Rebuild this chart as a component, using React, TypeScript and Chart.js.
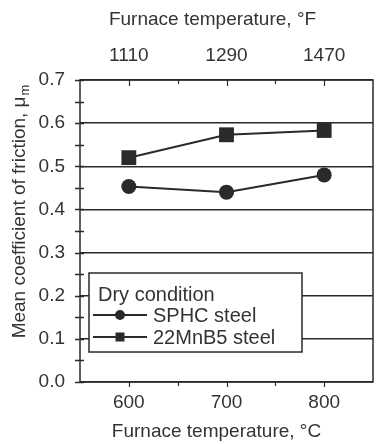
import React, { useEffect, useRef } from 'react';
import { Chart, registerables } from 'chart.js';

Chart.register(...registerables);

// ---- data ----
const tempC = [600, 700, 800];
const tempF = ['1110', '1290', '1470'];
const sphcSteel = [0.453, 0.44, 0.48];
const mnb5Steel = [0.52, 0.573, 0.583];
const seriesNames = ['SPHC steel', '22MnB5 steel'];
const legendTitle = 'Dry condition';
const xTitleBottom = 'Furnace temperature, °C';
const xTitleTop = 'Furnace temperature, °F';
const yTitleMain = 'Mean coefficient of friction, μ';
const yTitleSub = 'm';
const yMin = 0;
const yMax = 0.7;
const yStep = 0.1;
const xMin = 550;
const xMax = 850;
const xMinorStep = 50;

const FONT = "'Liberation Sans', Arial, sans-serif";
const INK = '#2a2a2a';
const TEXT = '#333333';

const decorPlugin = {
  id: 'decor',
  afterDraw(chart: any) {
    const { ctx, chartArea: a, scales } = chart;
    const x = scales.x;
    const y = scales.y;
    ctx.save();
    ctx.strokeStyle = INK;
    ctx.lineWidth = 1.5;
    // frame
    ctx.strokeRect(a.left, a.top, a.right - a.left, a.bottom - a.top);
    // y ticks (major + minor)
    for (let i = 0; i <= Math.round((yMax - yMin) / (yStep / 2)); i++) {
      const v = yMin + i * (yStep / 2);
      const py = Math.round(y.getPixelForValue(v)) + 0.5;
      ctx.beginPath();
      ctx.moveTo(a.left - 5, py);
      ctx.lineTo(a.left + 4, py);
      ctx.stroke();
    }
    // x ticks top (inward) and bottom (outward)
    ctx.lineWidth = 1.2;
    for (let v = tempC[0]; v <= tempC[tempC.length - 1]; v += xMinorStep) {
      const px = Math.round(x.getPixelForValue(v)) + 0.5;
      const major = tempC.includes(v);
      ctx.beginPath();
      ctx.moveTo(px, a.top);
      ctx.lineTo(px, a.top + (major ? 6 : 4));
      ctx.moveTo(px, a.bottom);
      ctx.lineTo(px, a.bottom + (major ? 5 : 4));
      ctx.stroke();
    }

    // x axis titles
    ctx.fillStyle = TEXT;
    ctx.font = `19px ${FONT}`;
    ctx.textAlign = 'center';
    ctx.textBaseline = 'middle';
    const titleCx = (a.left + a.right) / 2 - 11;
    ctx.fillText(xTitleTop, titleCx - 3, 20);
    ctx.fillText(xTitleBottom, titleCx + 1, a.bottom + 50);

    // y title with subscript
    ctx.save();
    const mainFont = `19px ${FONT}`;
    const subFont = `13px ${FONT}`;
    ctx.font = mainFont;
    const wMain = ctx.measureText(yTitleMain).width;
    ctx.font = subFont;
    const wSub = ctx.measureText(yTitleSub).width;
    const cy = (a.top + a.bottom) / 2 - 19;
    ctx.translate(25, cy);
    ctx.rotate(-Math.PI / 2);
    ctx.textBaseline = 'alphabetic';
    ctx.textAlign = 'left';
    const start = -(wMain + wSub) / 2;
    ctx.font = mainFont;
    ctx.fillText(yTitleMain, start, 0);
    ctx.font = subFont;
    ctx.fillText(yTitleSub, start + wMain + 1, 4);
    ctx.restore();

    // legend box
    const lx = a.left + 9;
    const ly = a.top + 193;
    const lw = 213;
    const lh = 79;
    ctx.fillStyle = '#ffffff';
    ctx.fillRect(lx, ly, lw, lh);
    ctx.lineWidth = 1.5;
    ctx.strokeStyle = INK;
    ctx.strokeRect(lx, ly, lw, lh);
    ctx.fillStyle = TEXT;
    ctx.font = `20px ${FONT}`;
    ctx.textBaseline = 'middle';
    ctx.textAlign = 'left';
    ctx.fillText(legendTitle, lx + 9, ly + 22);
    const rows = [ly + 42, ly + 64];
    const styles = ['circle', 'rect'];
    rows.forEach((ry, i) => {
      ctx.strokeStyle = INK;
      ctx.fillStyle = INK;
      ctx.lineWidth = 2;
      ctx.beginPath();
      ctx.moveTo(lx + 4, ry);
      ctx.lineTo(lx + 58, ry);
      ctx.stroke();
      const mx = lx + 31;
      if (styles[i] === 'circle') {
        ctx.beginPath();
        ctx.arc(mx, ry, 5, 0, Math.PI * 2);
        ctx.fill();
      } else {
        ctx.fillRect(mx - 4.5, ry - 4.5, 9, 9);
      }
      ctx.fillStyle = TEXT;
      ctx.fillText(seriesNames[i], lx + 64, ry + 1);
    });
    ctx.restore();
  },
};

export default function App() {
  const ref = useRef<HTMLCanvasElement | null>(null);
  useEffect(() => {
    if (!ref.current) return;
    const font = { family: FONT, size: 19 };
    const fixTicks = (s: any) => {
      s.ticks = tempC.map((v) => ({ value: v }));
    };
    const chart = new Chart(ref.current, {
      type: 'line',
      data: {
        datasets: [
          {
            label: seriesNames[0],
            data: tempC.map((t, i) => ({ x: t, y: sphcSteel[i] })),
            borderColor: INK,
            backgroundColor: INK,
            borderWidth: 2,
            pointStyle: 'circle',
            pointRadius: 7.5,
            pointBorderWidth: 0,
            xAxisID: 'x',
            yAxisID: 'y',
          },
          {
            label: seriesNames[1],
            data: tempC.map((t, i) => ({ x: t, y: mnb5Steel[i] })),
            borderColor: INK,
            backgroundColor: INK,
            borderWidth: 2,
            pointStyle: 'rect',
            pointRadius: 10.5,
            pointBorderWidth: 0,
            xAxisID: 'x',
            yAxisID: 'y',
          },
        ],
      },
      options: {
        animation: false,
        responsive: true,
        maintainAspectRatio: false,
        layout: { autoPadding: false, padding: { left: 0, right: 4, top: 0, bottom: 0 } },
        plugins: { legend: { display: false }, tooltip: { enabled: false } },
        scales: {
          x: {
            type: 'linear',
            position: 'bottom',
            min: xMin,
            max: xMax,
            afterBuildTicks: fixTicks,
            afterFit: (s: any) => {
              s.height = 62;
              s.paddingLeft = 0;
              s.paddingRight = 0;
            },
            grid: { display: false, drawTicks: false },
            border: { display: false },
            ticks: {
              font,
              color: TEXT,
              padding: 9,
              maxRotation: 0,
              callback: (v: any) => String(v),
            },
            title: { display: false },
          },
          x2: {
            type: 'linear',
            position: 'top',
            min: xMin,
            max: xMax,
            afterBuildTicks: fixTicks,
            afterFit: (s: any) => {
              s.height = 80;
              s.paddingLeft = 0;
              s.paddingRight = 0;
            },
            grid: { display: false, drawTicks: false },
            border: { display: false },
            ticks: {
              font,
              color: TEXT,
              padding: 13,
              maxRotation: 0,
              callback: (v: any) => tempF[tempC.indexOf(v)] ?? '',
            },
            title: { display: false },
          },
          y: {
            min: yMin,
            max: yMax,
            afterFit: (s: any) => {
              s.width = 80;
              s.paddingTop = 0;
              s.paddingBottom = 0;
            },
            grid: { color: INK, lineWidth: 1.5, drawTicks: false },
            border: { display: false },
            ticks: {
              stepSize: yStep,
              font,
              color: TEXT,
              padding: 15,
              callback: (v: any) => Number(v).toFixed(1),
            },
          },
        },
      },
      plugins: [decorPlugin],
    });
    return () => chart.destroy();
  }, []);
  return (
    <div style={{ position: 'absolute', left: 0, top: 0, width: 377, height: 444, background: '#fff' }}>
      <canvas ref={ref} />
    </div>
  );
}
